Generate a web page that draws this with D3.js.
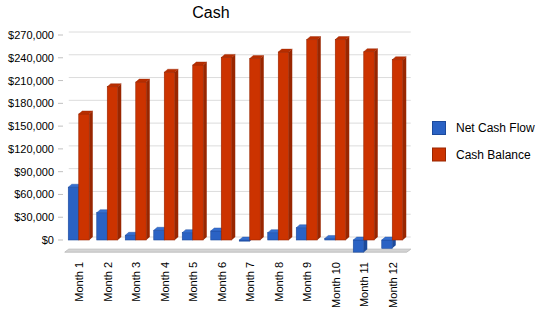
<!DOCTYPE html>
<html>
<head>
<meta charset="utf-8">
<script src="https://cdn.jsdelivr.net/npm/d3@7"></script>
<style>
  body { margin: 0; background: #fff; }
  svg text { font-family: "Liberation Sans", Arial, sans-serif; fill: #000; }
</style>
</head>
<body>
<div id="chart"></div>
<script>
// data
var months = ["Month 1", "Month 2", "Month 3", "Month 4", "Month 5", "Month 6",
              "Month 7", "Month 8", "Month 9", "Month 10", "Month 11", "Month 12"];
var seriesNames = ["Net Cash Flow", "Cash Balance"];
var netCashFlow = [69500, 36000, 6200, 12800, 9700, 11900, -1500, 9700, 16200, 2000, -16000, -11000];
var cashBalance = [166000, 202000, 208000, 221000, 230500, 240500, 239000, 247500, 264000, 264000, 248000, 237500];
var yTicks = [0, 30000, 60000, 90000, 120000, 150000, 180000, 210000, 240000, 270000];
var floorValue = -16000;

// constants
var width = 550, height = 318,
    depthX = 4, depthY = 3,      // 3d offset of the back wall
    barDX = 3.5, barDY = 3;      // 3d offset of each bar

var colors = {
    "Net Cash Flow": {front: "#2a62c4", top: "#3670d0", side: "#1c4a9c", stroke: "#1c4a9c"},
    "Cash Balance": {front: "#cc3300", top: "#b82e00", side: "#992600", stroke: "#992600"}
};

var svg = d3.select("#chart")
    .append("svg")
    .attr("width", width)
    .attr("height", height);

var x0 = d3.scaleBand()
    .domain(months)
    .range([64.75, 406.75]);

var x1 = d3.scaleBand()
    .domain(seriesNames)
    .range([3.5, 24.5]);

var y = d3.scaleLinear()
    .domain([0, 270000])
    .range([240, 35]);

var left = x0.range()[0], right = x0.range()[1],
    top = y(yTicks[yTicks.length - 1]), bottom = y(floorValue);

// back wall
svg.append("rect")
    .attr("x", left + depthX)
    .attr("y", top - depthY)
    .attr("width", right - left)
    .attr("height", bottom - top)
    .attr("fill", "#fff")
    .attr("stroke", "#c0c0c0");

// horizontal grid lines on the back wall
svg.selectAll(".hgrid")
    .data(yTicks)
    .enter().append("line")
    .attr("x1", left + depthX)
    .attr("x2", right + depthX)
    .attr("y1", function(d) { return y(d) - depthY; })
    .attr("y2", function(d) { return y(d) - depthY; })
    .attr("stroke", "#dcdcdc");

// vertical grid lines, carried over the floor and down as ticks
svg.selectAll(".vgrid")
    .data(months)
    .enter().append("path")
    .attr("d", function(d) {
        var cx = x0(d) + x0.bandwidth() / 2;
        return "M" + (cx + depthX) + "," + (top - depthY) +
               "L" + (cx + depthX) + "," + (bottom - depthY) +
               "L" + cx + "," + bottom + "L" + cx + "," + (bottom + 6);
    })
    .attr("fill", "none")
    .attr("stroke", "#dcdcdc");

// left wall
svg.append("path")
    .attr("d", "M" + left + "," + top + "L" + (left + depthX) + "," + (top - depthY) +
               "L" + (left + depthX) + "," + (bottom - depthY) + "L" + left + "," + bottom + "Z")
    .attr("fill", "#c0c0c0");

// floor
svg.append("path")
    .attr("d", "M" + left + "," + bottom + "L" + (left + depthX) + "," + (bottom - depthY) +
               "L" + (right + depthX) + "," + (bottom - depthY) + "L" + right + "," + bottom + "Z")
    .attr("fill", "#d4d4d4")
    .attr("stroke", "#c0c0c0");

// y axis labels and ticks
var yAxis = svg.append("g");
yAxis.selectAll("line")
    .data(yTicks)
    .enter().append("line")
    .attr("x1", 58).attr("x2", 63)
    .attr("y1", function(d) { return y(d); })
    .attr("y2", function(d) { return y(d); })
    .attr("stroke", "#c0c0c0");
yAxis.selectAll("text")
    .data(yTicks)
    .enter().append("text")
    .attr("x", 54)
    .attr("y", function(d) { return y(d); })
    .attr("dy", "0.36em")
    .attr("text-anchor", "end")
    .style("font-size", "11px")
    .text(function(d) { return "$" + d3.format(",")(d); });

// x labels
svg.selectAll(".xlabel")
    .data(months)
    .enter().append("text")
    .attr("transform", function(d) {
        return "translate(" + (x0(d) + x0.bandwidth() / 2 + 4) + ",262) rotate(-90)";
    })
    .attr("text-anchor", "end")
    .style("font-size", "11px")
    .text(function(d) { return d; });

// bars
var rows = months.map(function(m, i) {
    return {month: m, values: [
        {name: seriesNames[0], value: netCashFlow[i]},
        {name: seriesNames[1], value: cashBalance[i]}
    ]};
});

var groups = svg.selectAll(".group")
    .data(rows)
    .enter().append("g")
    .attr("transform", function(d) { return "translate(" + x0(d.month) + ",0)"; });

var bar = groups.selectAll(".bar")
    .data(function(d) { return d.values; })
    .enter().append("g");

function barBox(d) {
    var bx = x1(d.name), bw = x1.bandwidth(),
        yt = y(Math.max(0, d.value)), yb = y(Math.min(0, d.value));
    return {bx: bx, bw: bw, yt: yt, yb: yb};
}

bar.append("rect")
    .attr("x", function(d) { return barBox(d).bx; })
    .attr("y", function(d) { return barBox(d).yt; })
    .attr("width", function(d) { return barBox(d).bw; })
    .attr("height", function(d) { var b = barBox(d); return Math.max(0.5, b.yb - b.yt); })
    .attr("fill", function(d) { return colors[d.name].front; })
    .attr("stroke", function(d) { return colors[d.name].stroke; })
    .attr("stroke-width", 0.6);

// side face
bar.append("path")
    .attr("d", function(d) {
        var b = barBox(d), r = b.bx + b.bw;
        return "M" + r + "," + b.yt + "L" + (r + barDX) + "," + (b.yt - barDY) +
               "L" + (r + barDX) + "," + (b.yb - barDY) + "L" + r + "," + b.yb + "Z";
    })
    .attr("fill", function(d) { return colors[d.name].side; });

// top face
bar.append("path")
    .attr("d", function(d) {
        var b = barBox(d);
        return "M" + b.bx + "," + b.yt + "L" + (b.bx + barDX) + "," + (b.yt - barDY) +
               "L" + (b.bx + b.bw + barDX) + "," + (b.yt - barDY) + "L" + (b.bx + b.bw) + "," + b.yt + "Z";
    })
    .attr("fill", function(d) { return colors[d.name].top; })
    .attr("stroke", function(d) { return colors[d.name].stroke; })
    .attr("stroke-width", 0.4);

// title
svg.append("text")
    .attr("x", 211)
    .attr("y", 18)
    .attr("text-anchor", "middle")
    .style("font-size", "16px")
    .text("Cash");

// legend
var legend = svg.selectAll(".legend")
    .data(seriesNames)
    .enter().append("g")
    .attr("transform", function(d, i) { return "translate(432," + (121 + i * 26.5) + ")"; });

legend.append("rect")
    .attr("x", 0.5).attr("y", 0.5)
    .attr("width", 13).attr("height", 13)
    .attr("fill", function(d) { return colors[d].front; })
    .attr("stroke", function(d) { return colors[d].stroke; });

legend.append("text")
    .attr("x", 24)
    .attr("y", 7)
    .attr("dy", "0.36em")
    .style("font-size", "12px")
    .text(function(d) { return d; });
</script>
</body>
</html>
